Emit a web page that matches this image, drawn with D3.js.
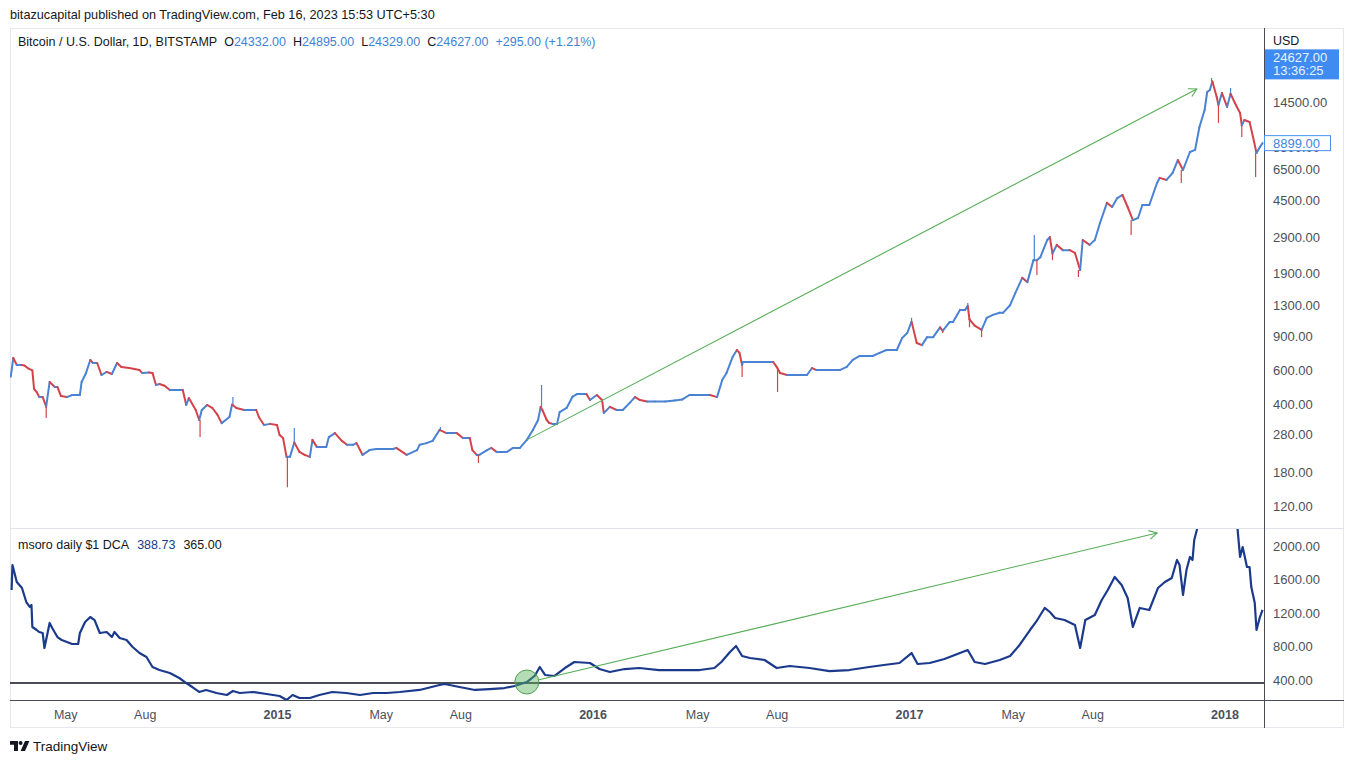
<!DOCTYPE html>
<html><head><meta charset="utf-8">
<script src="https://cdn.jsdelivr.net/npm/d3@7"></script>
<style>
html,body{margin:0;padding:0;background:#fff;}
svg{display:block;font-family:"Liberation Sans",Arial,sans-serif;}
</style></head><body>
<svg id="c" width="1354" height="763"></svg>
<script>
// ---------- DATA ----------
const priceDates = ["2014-02-27","2014-03-02","2014-03-06","2014-03-12","2014-03-15","2014-03-19","2014-03-24","2014-03-26","2014-03-29","2014-04-01","2014-04-05","2014-04-09","2014-04-13","2014-04-19","2014-04-22","2014-04-26","2014-05-03","2014-05-09","2014-05-18","2014-05-20","2014-05-25","2014-05-30","2014-06-02","2014-06-07","2014-06-12","2014-06-18","2014-06-24","2014-06-30","2014-07-05","2014-07-14","2014-07-26","2014-07-29","2014-08-06","2014-08-10","2014-08-14","2014-08-18","2014-08-24","2014-08-30","2014-09-07","2014-09-14","2014-09-18","2014-09-21","2014-09-29","2014-10-03","2014-10-06","2014-10-12","2014-10-18","2014-10-24","2014-10-29","2014-11-07","2014-11-10","2014-11-15","2014-11-24","2014-12-08","2014-12-11","2014-12-17","2014-12-24","2015-01-01","2015-01-04","2015-01-08","2015-01-12","2015-01-16","2015-01-21","2015-01-27","2015-02-02","2015-02-08","2015-02-11","2015-02-16","2015-02-22","2015-02-27","2015-03-02","2015-03-09","2015-03-17","2015-03-23","2015-03-30","2015-04-03","2015-04-10","2015-04-18","2015-04-26","2015-05-06","2015-05-15","2015-05-19","2015-05-31","2015-06-12","2015-06-15","2015-06-23","2015-06-30","2015-07-08","2015-07-16","2015-07-28","2015-08-04","2015-08-12","2015-08-15","2015-08-20","2015-08-23","2015-09-01","2015-09-06","2015-09-12","2015-09-18","2015-09-24","2015-10-01","2015-10-09","2015-10-17","2015-10-24","2015-10-30","2015-11-02","2015-11-04","2015-11-09","2015-11-12","2015-11-16","2015-11-21","2015-11-24","2015-12-02","2015-12-09","2015-12-14","2015-12-20","2015-12-25","2015-12-29","2016-01-06","2016-01-12","2016-01-14","2016-01-21","2016-01-29","2016-02-05","2016-02-13","2016-02-19","2016-02-25","2016-03-04","2016-03-13","2016-03-25","2016-04-05","2016-04-14","2016-04-22","2016-04-26","2016-05-04","2016-05-16","2016-05-24","2016-05-30","2016-06-04","2016-06-11","2016-06-16","2016-06-19","2016-06-22","2016-06-23","2016-07-01","2016-07-13","2016-07-28","2016-08-01","2016-08-05","2016-08-13","2016-08-24","2016-09-05","2016-09-11","2016-09-16","2016-09-29","2016-10-13","2016-10-21","2016-10-28","2016-11-05","2016-11-13","2016-11-20","2016-11-28","2016-12-06","2016-12-13","2016-12-18","2016-12-24","2016-12-30","2017-01-04","2017-01-10","2017-01-16","2017-01-22","2017-01-29","2017-02-06","2017-02-09","2017-02-17","2017-02-21","2017-03-01","2017-03-07","2017-03-10","2017-03-12","2017-03-18","2017-03-26","2017-04-01","2017-04-08","2017-04-16","2017-04-20","2017-04-28","2017-05-04","2017-05-12","2017-05-18","2017-05-25","2017-05-29","2017-06-02","2017-06-10","2017-06-13","2017-06-16","2017-06-21","2017-06-28","2017-07-06","2017-07-12","2017-07-18","2017-07-21","2017-07-29","2017-08-04","2017-08-10","2017-08-18","2017-08-24","2017-08-30","2017-09-05","2017-09-11","2017-09-17","2017-09-23","2017-09-28","2017-10-06","2017-10-15","2017-10-18","2017-10-26","2017-11-02","2017-11-08","2017-11-14","2017-11-22","2017-11-28","2017-12-03","2017-12-09","2017-12-12","2017-12-15","2017-12-18","2017-12-23","2017-12-25","2017-12-29","2018-01-04","2018-01-08","2018-01-13","2018-01-19","2018-01-21","2018-01-24","2018-01-30","2018-02-03","2018-02-07","2018-02-11","2018-02-14"];
const priceCloses = [557,695,640,640,635,615,600,481,464,437,437,390,523,493,493,443,437,448,448,523,580,679,655,655,568,589,575,655,625,617,602,582,585,582,505,510,500,475,475,475,398,432,375,333,375,398,385,355,321,345,400,384,375,375,345,314,318,314,279,269,215,215,255,228,220,215,263,242,242,242,272,285,260,248,248,253,220,233,236,236,236,239,220,233,248,253,260,296,285,285,269,269,233,220,220,233,239,228,228,228,239,239,263,296,333,389,375,333,321,318,318,366,384,440,453,453,453,422,448,422,362,389,375,375,408,437,422,415,415,415,420,425,448,448,448,448,437,535,582,703,764,738,640,663,663,663,663,625,582,568,568,568,617,602,602,602,625,679,712,712,712,738,764,764,764,880,935,1070,830,810,890,890,1000,960,1065,1065,1230,1230,1290,1100,1020,970,1120,1160,1190,1190,1300,1500,1800,1710,2220,2220,2300,2820,2920,2400,2660,2500,2500,2420,1975,2820,2660,2820,3450,4380,4170,4640,4810,4170,3570,3660,4270,4270,5550,5890,5750,6250,7280,6470,8010,8210,10780,13190,16330,16730,18500,15400,14000,16150,13670,16000,14340,12730,11000,11710,11440,9580,7920,8500,8899];

const wickDates  = ["2014-04-09","2014-10-04","2014-11-11","2015-01-13","2015-01-21","2015-07-09","2015-08-22","2015-11-03","2016-06-22","2016-08-02","2017-01-04","2017-02-09","2017-03-10","2017-03-12","2017-03-26","2017-05-26","2017-05-29","2017-06-16","2017-07-16","2017-09-15","2017-11-12","2017-12-17","2017-12-25","2018-01-08","2018-01-21","2018-02-06"];
const wickValues = [341,272,437,150,303,306,200,505,555,464,1120,935,1335,1000,890,2990,1860,2220,1820,2990,5550,19300,11310,17120,9580,5960];

const dcaDates = ["2014-02-28","2014-03-01","2014-03-06","2014-03-12","2014-03-17","2014-03-21","2014-03-23","2014-03-24","2014-03-29","2014-04-01","2014-04-05","2014-04-07","2014-04-13","2014-04-16","2014-04-22","2014-04-27","2014-05-03","2014-05-09","2014-05-16","2014-05-18","2014-05-24","2014-05-30","2014-06-04","2014-06-10","2014-06-18","2014-06-24","2014-06-27","2014-07-03","2014-07-11","2014-07-18","2014-07-26","2014-08-03","2014-08-10","2014-08-18","2014-08-30","2014-09-10","2014-09-18","2014-09-25","2014-10-03","2014-10-11","2014-10-23","2014-11-04","2014-11-11","2014-11-19","2014-12-04","2014-12-20","2015-01-04","2015-01-12","2015-01-19","2015-01-27","2015-02-08","2015-02-19","2015-03-06","2015-03-22","2015-04-07","2015-04-22","2015-05-08","2015-05-23","2015-06-15","2015-07-08","2015-07-14","2015-07-31","2015-08-18","2015-09-04","2015-09-21","2015-10-03","2015-10-17","2015-10-26","2015-11-01","2015-11-07","2015-11-18","2015-11-30","2015-12-11","2015-12-29","2016-01-09","2016-01-21","2016-02-07","2016-02-24","2016-03-18","2016-04-11","2016-05-04","2016-05-21","2016-05-29","2016-06-08","2016-06-15","2016-06-22","2016-07-01","2016-07-18","2016-08-01","2016-08-16","2016-09-08","2016-10-01","2016-10-24","2016-11-16","2016-12-03","2016-12-21","2017-01-04","2017-01-11","2017-01-25","2017-02-11","2017-03-01","2017-03-10","2017-03-18","2017-03-30","2017-04-16","2017-04-28","2017-05-09","2017-05-21","2017-05-28","2017-06-07","2017-06-13","2017-06-19","2017-06-30","2017-07-12","2017-07-18","2017-07-24","2017-08-04","2017-08-12","2017-08-19","2017-08-27","2017-09-04","2017-09-11","2017-09-17","2017-09-25","2017-10-06","2017-10-16","2017-10-24","2017-11-01","2017-11-07","2017-11-10","2017-11-14","2017-11-18","2017-11-22","2017-11-25","2017-11-27","2017-11-30","2017-12-07","2017-12-15","2017-12-21","2017-12-29","2018-01-07","2018-01-14","2018-01-16","2018-01-19","2018-01-22","2018-01-27","2018-01-30","2018-02-01","2018-02-05","2018-02-07","2018-02-11","2018-02-14"];
const dcaValues = [1475,1773,1570,1498,1331,1272,1296,1033,997,973,961,782,1081,1021,913,878,854,830,830,961,1093,1152,1116,961,973,913,973,901,878,794,722,675,555,519,484,424,364,316,257,281,245,221,269,245,257,233,209,161,221,185,185,221,257,245,221,245,245,257,281,340,352,316,281,292,304,328,376,448,555,460,448,543,615,603,531,496,531,543,519,519,519,543,615,734,806,687,663,639,543,567,543,507,519,555,579,603,722,591,603,651,722,758,615,591,639,687,818,997,1093,1260,1212,1140,1116,1057,782,1116,1176,1355,1475,1630,1534,1379,1033,1260,1236,1498,1570,1618,1833,1773,1415,1713,1869,1833,2072,2191,2550,2900,3150,2900,2790,2370,2215,1869,1988,1749,1749,1510,1319,997,1152,1236];

const priceTicks = [120,180,280,400,600,900,1300,1900,2900,4500,6500,8500,14500];
const dcaTicks = [400,800,1200,1600,2000];
const timeTickDates = ["2014-05-01","2014-08-01","2015-01-01","2015-05-01","2015-08-01","2016-01-01","2016-05-01","2016-08-01","2017-01-01","2017-05-01","2017-08-01","2018-01-01"];
const timeTickLabels = ["May","Aug","2015","May","Aug","2016","May","Aug","2017","May","Aug","2018"];
const investedLine = 365;
const lastClose = 8899;
const currentPrice = 24627;
const arrowTop = {from:["2015-10-17",263], to:["2017-11-30",16930]};
const arrowLow = {from:["2015-10-30",400], to:["2017-10-15",2155]};
const circleMark = ["2015-10-17",376];

// ---------- LAYOUT ----------
const parse = d3.utcParse("%Y-%m-%d");
const L = 10, R = 1264, AX = 1344;
const mainTop = 28, mainBot = 528, lowTop = 528, lowBot = 700, frameBot = 728;
const COL_UP = "#4a82d4", COL_DN = "#d4434a", GREEN = "#57ad57";
const TXT = "#131722", AXT = "#4c505b", DCA = "#1b3a8c";

const x = d3.scaleUtc().domain([parse("2015-01-01"), parse("2018-01-01")]).range([277, 1224.5]);
const y = d3.scaleLog().domain([120, 14500]).range([506, 102]);
const yL = d3.scaleLinear().domain([400, 2000]).range([680, 546]);

const svg = d3.select("#c");
svg.append("rect").attr("width",1354).attr("height",763).attr("fill","#fff");

const defs = svg.append("defs");
defs.append("clipPath").attr("id","cm").append("rect").attr("x",L).attr("y",mainTop).attr("width",R-L).attr("height",mainBot-mainTop);
defs.append("clipPath").attr("id","cl").append("rect").attr("x",L).attr("y",lowTop+1).attr("width",R-L).attr("height",lowBot-lowTop-1);

// header
svg.append("text").attr("x",10).attr("y",19).attr("font-size",12.7).attr("fill",TXT)
  .text("bitazucapital published on TradingView.com, Feb 16, 2023 15:53 UTC+5:30");

// frame
svg.append("rect").attr("x",L+0.5).attr("y",mainTop+0.5).attr("width",AX-L-1).attr("height",frameBot-mainTop-1)
  .attr("fill","none").attr("stroke","#e6e8ee");

// ---------- MAIN PANE ----------
const pts = priceDates.map((d,i)=>({d:parse(d), c:priceCloses[i]}));
const gm = svg.append("g").attr("clip-path","url(#cm)");
const segs = pts.slice(1).map((p,i)=>({a:pts[i], b:p}));
gm.selectAll("line.seg").data(segs).join("line").attr("class","seg")
  .attr("x1",s=>x(s.a.d)).attr("y1",s=>y(s.a.c)).attr("x2",s=>x(s.b.d)).attr("y2",s=>y(s.b.c))
  .attr("stroke",s=>s.b.c>=s.a.c?COL_UP:COL_DN).attr("stroke-width",2).attr("stroke-linecap","round");

const bis = d3.bisector(p=>p.d).center;
const wicks = wickDates.map((d,i)=>{const dt=parse(d); const p=pts[bis(pts,dt)]; return {d:dt, v:wickValues[i], c:p.c};});
gm.selectAll("line.wick").data(wicks).join("line").attr("class","wick")
  .attr("x1",w=>x(w.d)).attr("x2",w=>x(w.d)).attr("y1",w=>y(w.c)).attr("y2",w=>y(w.v))
  .attr("stroke",w=>w.v<w.c?COL_DN:COL_UP).attr("stroke-width",1.2);

function arrow(g, x1,y1,x2,y2){
  g.append("line").attr("x1",x1).attr("y1",y1).attr("x2",x2).attr("y2",y2).attr("stroke",GREEN).attr("stroke-width",1.1);
  const ang = Math.atan2(y2-y1,x2-x1), len=9, sp=0.5;
  const p = [[x2-len*Math.cos(ang-sp), y2-len*Math.sin(ang-sp)],[x2,y2],[x2-len*Math.cos(ang+sp), y2-len*Math.sin(ang+sp)]];
  g.append("path").attr("d",d3.line()(p)).attr("fill","none").attr("stroke",GREEN).attr("stroke-width",1.1);
}
arrow(gm, x(parse(arrowTop.from[0])), y(arrowTop.from[1]), x(parse(arrowTop.to[0])), y(arrowTop.to[1]));

// pane separator
svg.append("line").attr("x1",L).attr("x2",AX).attr("y1",lowTop+0.5).attr("y2",lowTop+0.5).attr("stroke","#e0e3eb");

// ---------- LOWER PANE ----------
const gl = svg.append("g").attr("clip-path","url(#cl)");
gl.append("line").attr("x1",L).attr("x2",R).attr("y1",yL(investedLine)).attr("y2",yL(investedLine))
  .attr("stroke","#4a4d57").attr("stroke-width",2);
const dpts = dcaDates.map((d,i)=>({d:parse(d), v:dcaValues[i]}));
gl.append("path").datum(dpts).attr("d",d3.line().x(p=>x(p.d)).y(p=>yL(p.v)))
  .attr("fill","none").attr("stroke",DCA).attr("stroke-width",2.2).attr("stroke-linejoin","round");
gl.append("circle").attr("cx",x(parse(circleMark[0]))).attr("cy",yL(circleMark[1])).attr("r",12)
  .attr("fill","rgba(90,180,90,0.45)").attr("stroke","#4ea14e").attr("stroke-width",1);
arrow(gl, x(parse(arrowLow.from[0])), yL(arrowLow.from[1]), x(parse(arrowLow.to[0])), yL(arrowLow.to[1]));

// bottom axis line and vertical separator
svg.append("line").attr("x1",L).attr("x2",AX).attr("y1",lowBot+0.5).attr("y2",lowBot+0.5).attr("stroke","#4a4d57");
svg.append("line").attr("x1",R+0.5).attr("x2",R+0.5).attr("y1",mainTop).attr("y2",frameBot).attr("stroke","#4a4d57");

// ---------- AXES ----------
const ay = svg.append("g").attr("transform",`translate(${R},0)`)
  .call(d3.axisRight(y).tickValues(priceTicks).tickFormat(d3.format(".2f")).tickSize(0).tickPadding(9));
ay.select(".domain").remove();
ay.selectAll("text").attr("font-size",13).attr("fill",AXT).attr("font-family","Liberation Sans, Arial, sans-serif");

const ayl = svg.append("g").attr("transform",`translate(${R},0)`)
  .call(d3.axisRight(yL).tickValues(dcaTicks).tickFormat(d3.format(".2f")).tickSize(0).tickPadding(9));
ayl.select(".domain").remove();
ayl.selectAll("text").attr("font-size",13).attr("fill",AXT).attr("font-family","Liberation Sans, Arial, sans-serif");

const ax = svg.append("g").attr("transform",`translate(0,${lowBot})`)
  .call(d3.axisBottom(x).tickValues(timeTickDates.map(parse)).tickFormat((d,i)=>timeTickLabels[i]).tickSize(0).tickPadding(10));
ax.select(".domain").remove();
ax.selectAll("text").attr("font-size",12.5).attr("fill",AXT).attr("font-family","Liberation Sans, Arial, sans-serif")
  .attr("font-weight",(d,i)=>/^\d{4}$/.test(timeTickLabels[i])?"bold":"normal");

// USD + price labels
svg.append("text").attr("x",1273).attr("y",45).attr("font-size",12.5).attr("fill",TXT).text("USD");
const cy = y(currentPrice);
svg.append("rect").attr("x",R+1).attr("y",cy-8).attr("width",74).attr("height",30).attr("fill","#3f8bf2");
svg.append("text").attr("x",1273).attr("y",cy+5).attr("font-size",13).attr("fill","#e8f1ff").text(d3.format(".2f")(currentPrice));
svg.append("text").attr("x",1273).attr("y",cy+18).attr("font-size",13).attr("fill","#e8f1ff").text("13:36:25");

const ly = y(lastClose);
svg.append("rect").attr("x",R+0.5).attr("y",ly-7.5).attr("width",66).attr("height",15).attr("fill","#fff").attr("stroke","#4a8ff0");
svg.append("text").attr("x",1273).attr("y",ly+5).attr("font-size",13).attr("fill","#3f84e5").text(d3.format(".2f")(lastClose));

// ---------- LEGENDS ----------
const lg = svg.append("text").attr("x",18).attr("y",46).attr("font-size",12.5).attr("fill",TXT);
lg.append("tspan").text("Bitcoin / U.S. Dollar, 1D, BITSTAMP");
const LB = "#3c83d6";
[["O","24332.00"],["H","24895.00"],["L","24329.00"],["C","24627.00"]].forEach(([k,v])=>{
  lg.append("tspan").attr("dx",7).attr("fill",TXT).text(k);
  lg.append("tspan").attr("fill",LB).text(v);
});
lg.append("tspan").attr("dx",7).attr("fill",LB).text("+295.00 (+1.21%)");

const lg2 = svg.append("text").attr("x",18).attr("y",549).attr("font-size",12.5).attr("fill",TXT);
lg2.append("tspan").text("msoro daily $1 DCA");
lg2.append("tspan").attr("dx",8).attr("fill",DCA).text("388.73");
lg2.append("tspan").attr("dx",8).attr("fill",TXT).text("365.00");

// ---------- FOOTER LOGO ----------
const lf = svg.append("g").attr("fill",TXT);
lf.append("path").attr("d","M10 741h8v10h-4v-6.2h-4z");
lf.append("circle").attr("cx",20.6).attr("cy",743).attr("r",2);
lf.append("path").attr("d","M25 741h4.4l-4.4 10h-4.4z");
svg.append("text").attr("x",33).attr("y",751).attr("font-size",13.5).attr("fill",TXT).text("TradingView");
</script>
</body></html>
